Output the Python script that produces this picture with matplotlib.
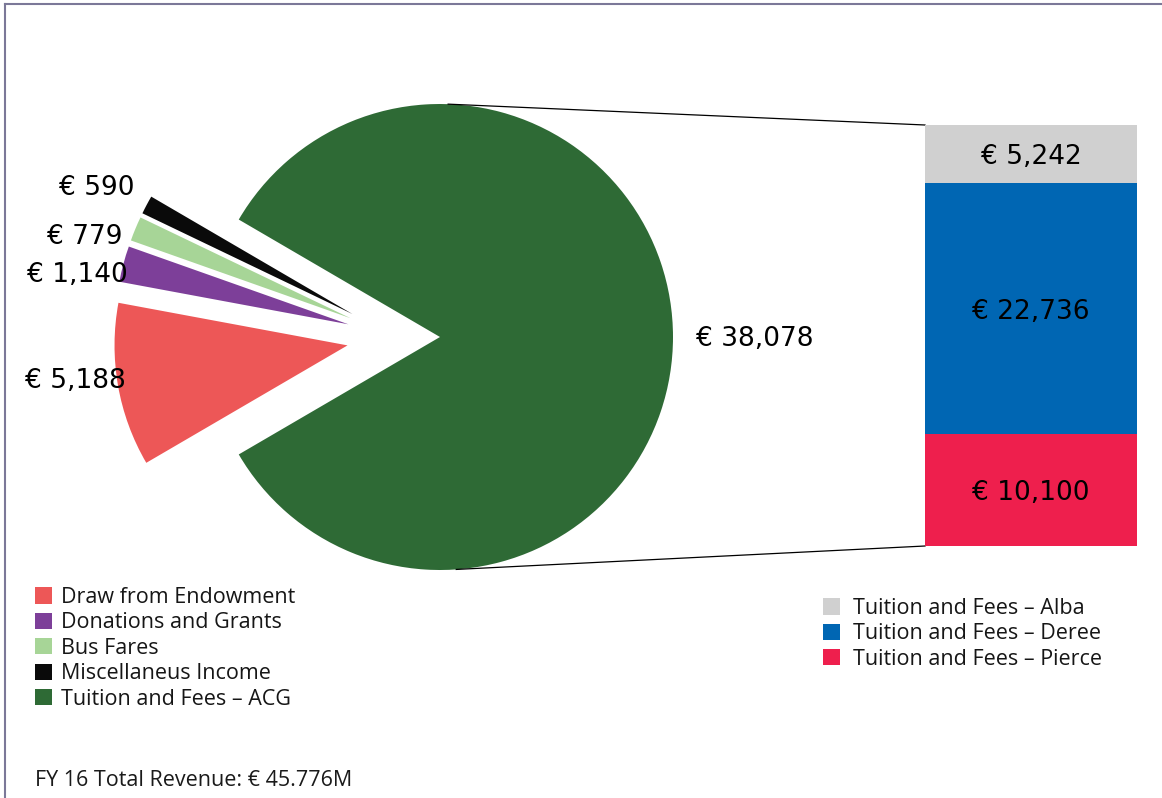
import matplotlib
matplotlib.use('Agg')
import matplotlib.pyplot as plt
import matplotlib.transforms as mtransforms
import numpy as np
from matplotlib.patches import Patch
from matplotlib.lines import Line2D

# ---------------- data ----------------
pie_labels = ["Tuition and Fees – ACG", "Miscellaneus Income", "Bus Fares",
              "Donations and Grants", "Draw from Endowment"]
pie_values = [38078, 590, 779, 1140, 5188]
pie_colors = ["#2e6a35", "#0a0a0a", "#a7d597", "#7d3f99", "#ed5757"]

bar_labels = ["Tuition and Fees – Pierce", "Tuition and Fees – Deree", "Tuition and Fees – Alba"]
bar_values = [10100, 22736, 5242]
bar_colors = ["#ee1f4d", "#0066b3", "#d0d0d0"]

legend1_order = [4, 3, 2, 1, 0]
legend2_order = [2, 1, 0]
footer = "FY 16 Total Revenue: € 45.776M"

# ---------------- layout ----------------
W, H = 1162, 798
fig = plt.figure(figsize=(W / 100, H / 100), dpi=100)
ax = fig.add_axes([0, 0, 1, 1])

cx, cy, R = 440, H - 337, 233
total = sum(pie_values)
start = -pie_values[0] / total * 180
explode = [0, 0.21 * R, 0.21 * R, 0.21 * R, 0.21 * R]
wedges, _ = ax.pie(pie_values, colors=pie_colors, startangle=start,
                   center=(cx, cy), radius=R, explode=explode,
                   wedgeprops=dict(linewidth=0))
shift = 0.19 * R
for w in wedges[1:]:
    c = w.center
    w.set_center((c[0] - shift, c[1]))

ax.set_xlim(0, W)
ax.set_ylim(0, H)
ax.set_aspect('auto')
ax.axis('off')

label_pos = [(755, 339), (97, 188), (85, 237), (77, 275), (75, 381)]
for v, (x, y) in zip(pie_values, label_pos):
    ax.text(x, H - y, f"€ {v:,}", ha='center', va='center', fontsize=19,
            family='DejaVu Sans', color='black')

# bar
bl, bt, bw, bh = 925, 125, 212, 421
ax2 = fig.add_axes([bl / W, (H - bt - bh) / H, bw / W, bh / H])
bottoms = np.concatenate([[0], np.cumsum(bar_values)[:-1]])
ax2.bar(0, bar_values, bottom=bottoms, width=1, color=bar_colors, linewidth=0)
ax2.set_xlim(-0.5, 0.5)
ax2.set_ylim(0, sum(bar_values))
ax2.axis('off')
tdown = mtransforms.offset_copy(ax2.transData, fig=fig, x=0, y=-3, units='dots')
for v, b in zip(bar_values, bottoms):
    ax2.text(0, b + v / 2, f"€ {v:,}", ha='center', va='center', fontsize=19,
             family='DejaVu Sans', color='black', transform=tdown)

# connector lines
a1, a2 = np.deg2rad(88), np.deg2rad(-86)
ax.plot([cx + R * np.cos(a1), bl], [cy + R * np.sin(a1), H - bt], color='black', lw=0.9)
ax.plot([cx + R * np.cos(a2), bl], [cy + R * np.sin(a2), H - bt - bh], color='black', lw=0.9)

# legends
lfont = dict(family='Open Sans', size=15.5)
h1 = [Patch(facecolor=pie_colors[i], edgecolor='none') for i in legend1_order]
l1 = [pie_labels[i] for i in legend1_order]
leg1 = ax.legend(h1, l1, loc='upper left', bbox_to_anchor=(35, H - 587),
                 bbox_transform=ax.transData, frameon=False, prop=lfont,
                 borderpad=0, borderaxespad=0, handlelength=0.78, handleheight=0.78,
                 handletextpad=0.42, labelspacing=0.205, labelcolor='#161616')
ax.add_artist(leg1)
h2 = [Patch(facecolor=bar_colors[i], edgecolor='none') for i in legend2_order]
l2 = [bar_labels[i] for i in legend2_order]
ax.legend(h2, l2, loc='upper left', bbox_to_anchor=(823, H - 598),
          bbox_transform=ax.transData, frameon=False, prop=lfont,
          borderpad=0, borderaxespad=0, handlelength=0.78, handleheight=0.78,
          handletextpad=0.6, labelspacing=0.205, labelcolor='#161616')

ax.text(35, H - 780, footer, ha='left', va='center', fontsize=15.5,
        family='Open Sans', color='#1a1a1a')

# border
bc = '#7b7898'
fig.add_artist(Line2D([5 / W, 1], [1 - 4 / H, 1 - 4 / H], transform=fig.transFigure, color=bc, lw=1.5))
fig.add_artist(Line2D([5 / W, 5 / W], [0, 1 - 4 / H], transform=fig.transFigure, color=bc, lw=1.5))

fig.savefig('out.png', dpi=100)
